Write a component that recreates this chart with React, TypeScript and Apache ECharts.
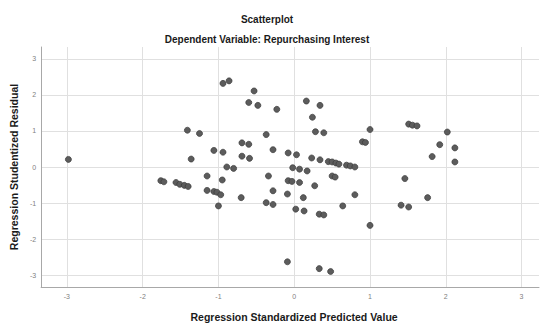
import React, { useEffect, useRef } from "react";
import * as echarts from "echarts";

const titleText = "Scatterplot";
const subtitleText = "Dependent Variable: Repurchasing Interest";
const xAxisName = "Regression Standardized Predicted Value";
const yAxisName = "Regression Studentized Residual";

const predicted = [
  -2.98, -1.76, -1.72, -1.56, -1.51, -1.45, -1.40, -1.41, -1.25, -1.36,
  -1.15, -1.15, -1.06, -1.02, -0.97, -1.00, -1.06, -0.94, -0.95, -0.94,
  -0.86, -0.89, -0.80, -0.70, -0.69, -0.60, -0.69, -0.59, -0.53, -0.60,
  -0.48, -0.37, -0.34, -0.28, -0.28, -0.37, -0.28, -0.23, -0.09, -0.08,
  -0.08, -0.03, -0.09, -0.02, 0.03, 0.07, 0.07, 0.02, 0.12, 0.13,
  0.16, 0.17, 0.23, 0.24, 0.27, 0.28, 0.33, 0.33, 0.34, 0.34,
  0.39, 0.39, 0.45, 0.50, 0.55, 0.59, 0.48, 0.50, 0.54, 0.64,
  0.69, 0.74, 0.80, 0.80, 0.90, 0.94, 1.00, 1.00, 1.41, 1.46,
  1.51, 1.51, 1.56, 1.62, 1.76, 1.82, 1.92, 2.02, 2.12, 2.12,
];

const residual = [
  0.21, -0.38, -0.41, -0.43, -0.48, -0.51, -0.54, 1.02, 0.93, 0.22,
  -0.25, -0.65, -0.68, -0.70, -0.77, -1.08, 0.46, 0.41, -0.36, 2.32,
  2.39, 0.00, -0.04, -0.85, 0.67, 0.63, 0.30, 0.24, 2.11, 1.79,
  1.71, 0.90, -0.25, 0.48, -0.66, -0.99, -1.04, 1.60, -0.75, 0.39,
  -0.38, -0.40, -2.63, -0.02, 0.34, -0.06, -0.43, -1.17, -0.85, -1.22,
  1.83, -0.11, 0.25, 1.38, -0.52, 0.98, -1.31, -2.82, 1.71, 0.20,
  0.95, -1.33, 0.15, 0.14, 0.11, 0.08, -2.90, -0.25, -0.28, -1.08,
  0.05, 0.03, 0.00, -0.77, 0.70, 0.68, 1.04, -1.62, -1.06, -0.32,
  -1.11, 1.19, 1.16, 1.14, -0.85, 0.29, 0.62, 0.97, 0.53, 0.14,
];

const FONT = "'Liberation Sans', Arial, sans-serif";

export default function App() {
  const ref = useRef<HTMLDivElement>(null);

  useEffect(() => {
    if (!ref.current) return;
    const chart = echarts.init(ref.current, undefined, { renderer: "svg" });
    const points = predicted.map((x, i) => [x, residual[i]]);
    const fmt = (v: number) =>
      Math.abs(v - Math.round(v)) < 1e-9 ? String(Math.round(v)) : "";
    const split = {
      show: true,
      showMinLine: false,
      showMaxLine: false,
      lineStyle: { color: "#e0e0e0", width: 1, type: "solid" as const },
    };

    chart.setOption({
      animation: false,
      backgroundColor: "#ffffff",
      textStyle: { fontFamily: FONT },
      title: [
        {
          text: titleText,
          left: 267,
          top: 14,
          padding: 0,
          textAlign: "center",
          textStyle: { fontSize: 10, fontWeight: "bold", color: "#1a1a1a", fontFamily: FONT },
        },
        {
          text: subtitleText,
          left: 267,
          top: 34,
          padding: 0,
          textAlign: "center",
          textStyle: { fontSize: 10, fontWeight: "bold", color: "#1a1a1a", fontFamily: FONT },
        },
      ],
      grid: { left: 40, right: 1, top: 47, bottom: 34, containLabel: false },
      xAxis: {
        type: "value",
        min: -3.34,
        max: 3.23,
        splitNumber: 6,
        name: xAxisName,
        nameLocation: "middle",
        nameGap: 24,
        nameTextStyle: {
          fontSize: 10.5,
          fontWeight: "bold",
          color: "#1a1a1a",
          fontFamily: FONT,
          padding: [0, 0, 0, 8],
        },
        axisLine: { show: true, onZero: false, lineStyle: { color: "#a8a8a8", width: 1 } },
        axisTick: { show: false },
        splitLine: split,
        axisLabel: { fontSize: 7, color: "#808080", margin: 6, formatter: fmt, fontFamily: FONT },
      },
      yAxis: {
        type: "value",
        min: -3.33,
        max: 3.33,
        splitNumber: 6,
        name: yAxisName,
        nameLocation: "middle",
        nameGap: 21,
        nameRotate: 90,
        nameTextStyle: { fontSize: 10.5, fontWeight: "bold", color: "#1a1a1a", fontFamily: FONT },
        axisLine: { show: true, onZero: false, lineStyle: { color: "#a8a8a8", width: 1 } },
        axisTick: { show: false },
        splitLine: split,
        axisLabel: { fontSize: 7, color: "#808080", margin: 5, formatter: fmt, fontFamily: FONT },
      },
      series: [
        {
          type: "scatter",
          data: points,
          symbol: "circle",
          symbolSize: 6,
          itemStyle: { color: "#5c5c5c", borderColor: "#3a3a3a", borderWidth: 0.7, opacity: 1 },
          emphasis: { disabled: true },
          silent: true,
        },
      ],
    });

    return () => chart.dispose();
  }, []);

  return (
    <div
      ref={ref}
      style={{ position: "fixed", left: 0, top: 0, width: 542, height: 327, background: "#fff" }}
    />
  );
}
